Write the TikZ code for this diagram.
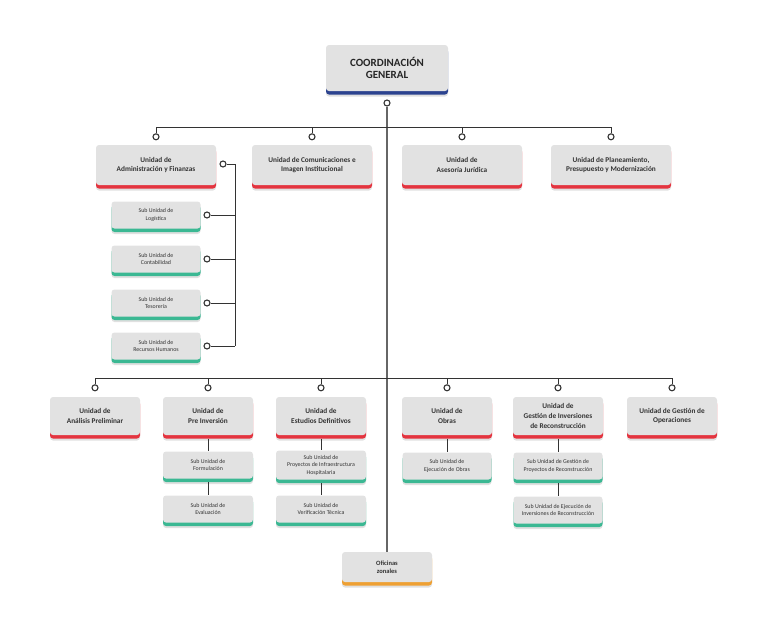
\documentclass[tikz,border=0pt]{standalone}
\usepackage{fontspec}
\setmainfont{Carlito}
\usetikzlibrary{shadows}

\definecolor{boxgray}{HTML}{E2E2E2}
\definecolor{barred}{HTML}{E4343F}
\definecolor{barteal}{HTML}{3BB893}
\definecolor{barblue}{HTML}{2C438F}
\definecolor{barorange}{HTML}{EEA033}
\definecolor{inkgray}{HTML}{333333}

\begin{document}
\begin{tikzpicture}[x=1pt,y=-1pt,
  card/.style={fill=boxgray,rounded corners=3pt,align=center,text=inkgray,inner sep=2pt,
    general shadow={fill=black,opacity=.12,shadow yshift=-5.5pt},
    general shadow={fill=#1,shadow yshift=-3.5pt}},
  unit/.style={card=barred,minimum width=120pt,minimum height=40pt,
    font=\bfseries\fontsize{7.3}{9.6}\selectfont},
  lowunit/.style={unit,minimum width=90pt,minimum height=38pt},
  sub/.style={card=barteal,minimum width=89pt,minimum height=27pt,
    font=\fontsize{5.9}{7.5}\selectfont},
  dot/.style={circle,draw=inkgray,line width=1.1pt,fill=white,inner sep=0pt,minimum size=6pt},
  link/.style={draw=inkgray,line width=.9pt}
]
  \useasboundingbox (0,0) rectangle (768,632);

  % cabeza
  \node[card=barblue,minimum width=122pt,minimum height=46pt,text=black!85,
    font=\bfseries\fontsize{11}{12.5}\selectfont] (coord) at (387,68) {COORDINACIÓN\\GENERAL};
  \node[dot] (cdot) at (387,103) {};
  \node[card=barorange,minimum width=90pt,minimum height=30pt,
    font=\bfseries\fontsize{6.5}{8}\selectfont] (ofi) at (387,567) {Oficinas\\zonales};
  \draw[link,draw=gray!80!black,line width=1.1pt] (cdot) -- (ofi.north);

  % primer nivel
  \coordinate (busA) at (387,127);
  \node[unit] (adm) at (156,165) {Unidad de\\Administración y Finanzas};
  \node[unit] (com) at (312,165) {Unidad de Comunicaciones e\\Imagen Institucional};
  \node[unit] (ase) at (462,165) {Unidad de\\Asesoría Jurídica};
  \node[unit] (pla) at (611,165) {Unidad de Planeamiento,\\Presupuesto y Modernización};
  \foreach \n in {adm,com,ase,pla} {
    \node[dot] (dot-\n) at ([yshift=8pt]\n.north) {};
    \draw[link] (dot-\n) -- (dot-\n |- busA);
  }
  \draw[link] (dot-adm |- busA) -- (dot-pla |- busA);

  % sub unidades de administracion
  \node[dot] (dot-admr) at (223,164) {};
  \coordinate (admbus) at (235,164);
  \foreach \y/\n/\t in {215/log/Logística,259/con/Contabilidad,303/tes/Tesorería,346/rrhh/Recursos Humanos} {
    \node[sub] (\n) at (156,\y) {Sub Unidad de\\\t};
    \node[dot] (dot-\n) at (207,\y) {};
    \draw[link] (dot-\n) -- (dot-\n -| admbus);
  }
  \draw[link] (dot-admr) -- (admbus) -- (admbus |- dot-rrhh);

  % segundo nivel
  \coordinate (busB) at (387,378);
  \node[lowunit] (ana) at (95,416) {Unidad de\\Análisis Preliminar};
  \node[lowunit] (pre) at (208,416) {Unidad de\\Pre Inversión};
  \node[lowunit] (est) at (321,416) {Unidad de\\Estudios Definitivos};
  \node[lowunit] (obr) at (447,416) {Unidad de\\Obras};
  \node[lowunit] (gir) at (558,416) {Unidad de\\Gestión de Inversiones\\de Reconstrucción};
  \node[lowunit] (gop) at (672,416) {Unidad de Gestión de\\Operaciones};
  \foreach \n in {ana,pre,est,obr,gir,gop} {
    \node[dot] (dot-\n) at ([yshift=9pt]\n.north) {};
    \draw[link] (dot-\n) -- (dot-\n |- busB);
  }
  \draw[link] (dot-ana |- busB) -- (dot-gop |- busB);

  % sub unidades de operaciones
  \node[sub,minimum width=90pt] (for) at (208,465) {Sub Unidad de\\Formulación};
  \node[sub,minimum width=90pt] (eva) at (208,509) {Sub Unidad de\\Evaluación};
  \node[sub,minimum width=90pt,minimum height=29pt] (pro) at (321,465) {Sub Unidad de\\Proyectos de Infraestructura\\Hospitalaria};
  \node[sub,minimum width=90pt] (ver) at (321,509) {Sub Unidad de\\Verificación Técnica};
  \node[sub] (eje) at (447,466) {Sub Unidad de\\Ejecución de Obras};
  \node[sub] (gpr) at (558,466) {Sub Unidad de Gestión de\\Proyectos de Reconstrucción};
  \node[sub] (gin) at (558,510) {Sub Unidad de Ejecución de\\Inversiones de Reconstrucción};
  \draw[link] ([yshift=-3.5pt]pre.south) -- (for.north);
  \draw[link] ([yshift=-3.5pt]for.south) -- (eva.north);
  \draw[link] ([yshift=-3.5pt]est.south) -- (pro.north);
  \draw[link] ([yshift=-3.5pt]pro.south) -- (ver.north);
  \draw[link] ([yshift=-3.5pt]obr.south) -- (eje.north);
  \draw[link] ([yshift=-3.5pt]gir.south) -- (gpr.north);
  \draw[link] ([yshift=-3.5pt]gpr.south) -- (gin.north);
\end{tikzpicture}
\end{document}
